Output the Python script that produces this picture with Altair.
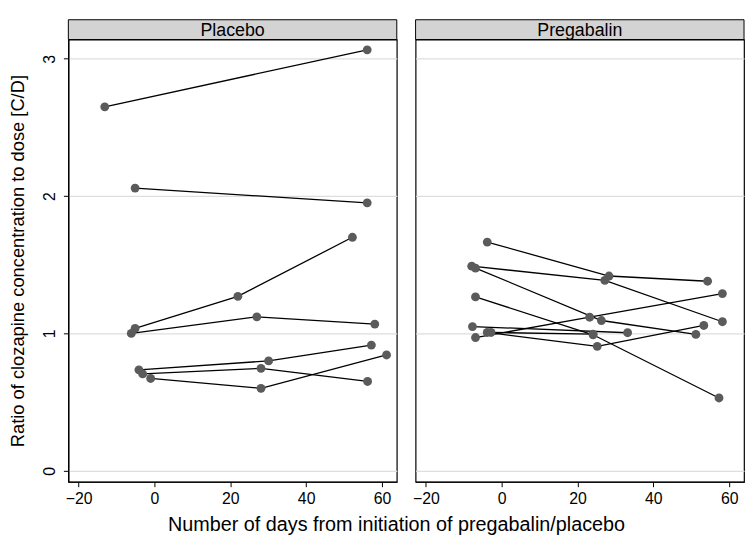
import altair as alt
import pandas as pd

# ---- data ----
placebo_subjects = ["P1", "P1", "P2", "P2", "P3", "P3", "P3", "P4", "P4", "P4",
                    "P5", "P5", "P5", "P6", "P6", "P6", "P7", "P7", "P7"]
placebo_days = [-13.1, 56.1, -5.1, 56.1, -5.1, 22.0, 52.2, -6.1, 27.0, 58.1,
                -4.1, 30.1, 57.2, -3.1, 28.1, 56.2, -1.0, 28.1, 61.2]
placebo_ratio = [2.65, 3.065, 2.058, 1.951, 1.036, 1.27, 1.70, 1.0, 1.121, 1.068,
                 0.735, 0.80, 0.915, 0.705, 0.746, 0.65, 0.672, 0.60, 0.843]

preg_subjects = ["S1", "S1", "S1", "S2", "S2", "S2", "S3", "S3", "S3",
                 "S4", "S4", "S4", "S5", "S5", "S5", "S6", "S6",
                 "S7", "S7", "S7", "S8", "S8"]
preg_days = [-3.8, 28.3, 54.3, -7.9, 27.2, 58.2, -6.9, 26.3, 51.2,
             -6.9, 24.1, 57.3, -6.9, 23.2, 58.2, -7.7, 33.2,
             -3.8, 25.2, 53.3, -2.8, 24.1]
preg_ratio = [1.665, 1.418, 1.38, 1.49, 1.386, 1.085, 1.476, 1.094, 0.993,
              1.266, 0.99, 0.53, 0.97, 1.118, 1.29, 1.05, 1.005,
              1.007, 0.906, 1.058, 1.007, 0.995]

y_ticks = [0, 1, 2, 3]
x_ticks = [-20, 0, 20, 40, 60]
panel_names = ["Placebo", "Pregabalin"]

df = pd.DataFrame({
    "group": ["Placebo"] * len(placebo_days) + ["Pregabalin"] * len(preg_days),
    "subject": placebo_subjects + preg_subjects,
    "day": placebo_days + preg_days,
    "ratio": placebo_ratio + preg_ratio,
})

FONT = "Liberation Sans"
XDOM = [-22.7, 63.9]
YDOM = [-0.08, 3.14]
W, H = 332, 447
HEAD = 20


def panel(name, first):
    d = df[df.group == name]
    base = alt.Chart(d)
    if first:
        yaxis = alt.Axis(values=y_ticks, title="Ratio of clozapine concentration to dose [C/D]",
                         labelAngle=-90, labelAlign="center", labelBaseline="bottom",
                         labelPadding=6, titlePadding=14, titleFontSize=18.5, grid=True)
    else:
        yaxis = alt.Axis(values=y_ticks, labels=False, ticks=False, domain=False,
                         title=None, grid=True)
    x = alt.X("day:Q", scale=alt.Scale(domain=XDOM, nice=False, zero=False),
              axis=alt.Axis(values=x_ticks, title=None, grid=False, labelPadding=4))
    y = alt.Y("ratio:Q", scale=alt.Scale(domain=YDOM, nice=False, zero=False), axis=yaxis)
    lines = base.mark_line(color="black", strokeWidth=1.3).encode(
        x=x, y=y, detail="subject:N", order="day:Q")
    pts = base.mark_circle(size=80, color="#5b5b5b", opacity=1).encode(x=x, y=y)
    hdf = pd.DataFrame({"label": [name]})
    head_rect = alt.Chart(hdf).mark_rect(fill="#d3d3d3", stroke="black", strokeWidth=1).encode(
        x=alt.value(0), x2=alt.value(W), y=alt.value(-HEAD), y2=alt.value(0))
    head_text = alt.Chart(hdf).mark_text(font=FONT, fontSize=18, color="black",
                                         baseline="middle", align="center").encode(
        text="label:N", x=alt.value(W / 2), y=alt.value(-HEAD / 2 + 1))
    return alt.layer(head_rect, head_text, lines, pts).properties(width=W, height=H)


chart = alt.hconcat(panel(panel_names[0], True), panel(panel_names[1], False), spacing=13).properties(
    title=alt.TitleParams("Number of days from initiation of pregabalin/placebo", orient="bottom",
                          anchor="middle", font=FONT, fontSize=20, fontWeight="normal",
                          color="black", offset=8, dx=20),
    padding={"left": 0, "top": 7, "right": 0, "bottom": 0},
    background="white",
).configure_view(stroke="black", strokeWidth=1.2).configure_axis(
    domainColor="black", domainWidth=1.2, tickColor="black", tickSize=5,
    labelColor="black", labelFont=FONT, labelFontSize=16,
    titleColor="black", titleFont=FONT, titleFontSize=17, titleFontWeight="normal",
    gridColor="#dedede", gridWidth=1.2,
)

chart.save("out.html", embed_options={"renderer": "svg", "actions": False})
